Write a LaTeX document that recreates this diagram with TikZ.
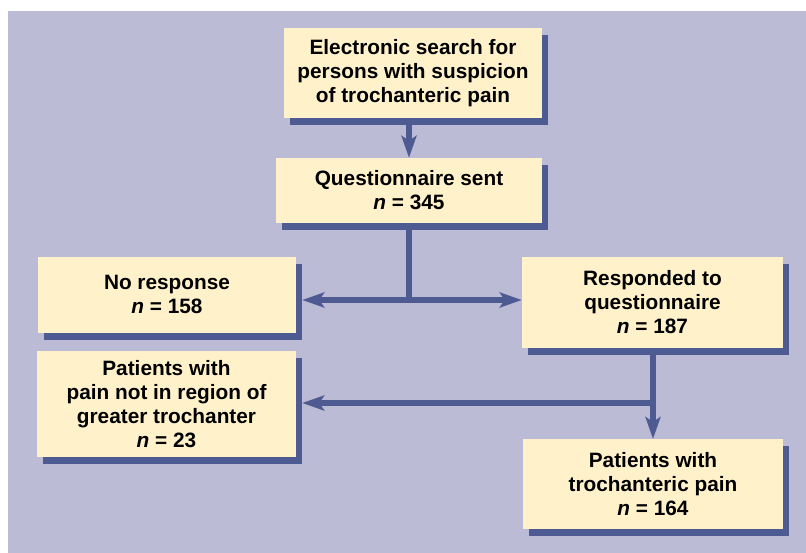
\documentclass[tikz,border=0pt]{standalone}
\usepackage{fontspec}
\setmainfont{Liberation Sans}
\usetikzlibrary{arrows.meta,shadows}

\definecolor{panel}{HTML}{BBBBD5}
\definecolor{boxfill}{HTML}{FFF2CB}
\definecolor{flowblue}{HTML}{4E5A92}

\begin{document}
\begin{tikzpicture}[x = 1pt, y = -1pt, > = {Stealth[length = 22pt, width = 15pt, inset = 5pt]},
	box/.style = {fill = boxfill, align = center, inner sep = 0pt,
		font = \fontsize{20.8}{24}\selectfont\bfseries,
		drop shadow = {shadow xshift = 6pt, shadow yshift = -7pt, opacity = 1, fill = flowblue}},
	flow/.style = {draw = flowblue, line width = 5.5pt}]

% Definitions

\def\nn{\textit{n}}

% Page and panel

\useasboundingbox (0, 0) rectangle (806, 553);
\fill [white] (0, 0) rectangle (806, 553);
\fill [panel] (8, 11) rectangle (806, 553);

% Boxes

\node [box, minimum width = 258pt, minimum height = 90pt] (search) at (413, 73)
	{Electronic search for\\persons with suspicion\\of trochanteric pain};
\node [box, minimum width = 266pt, minimum height = 65pt] (sent) at (409, 190.5)
	{Questionnaire sent\\\nn{} = 345};
\node [box, minimum width = 258pt, minimum height = 76pt] (noresp) at (167, 294.7)
	{No response\\\nn{} = 158};
\node [box, minimum width = 261pt, minimum height = 91pt] (resp) at (652.5, 302.2)
	{Responded to\\questionnaire\\\nn{} = 187};
\node [box, minimum width = 259pt, minimum height = 106pt] (other) at (166.5, 403.7)
	{Patients with\\pain not in region of\\greater trochanter\\\nn{} = 23};
\node [box, minimum width = 260pt, minimum height = 90pt] (troch) at (653, 484.2)
	{Patients with\\trochanteric pain\\\nn{} = 164};

% Split points

\coordinate (split-a) at (409, 300);
\coordinate (split-b) at (653, 403);

% Connectors

\draw [flow, ->] (sent.north |- search.south) -- (sent.north);
\draw [flow] (sent.south) -- (split-a);
\draw [flow, ->] (split-a) -- ([xshift = 6pt] noresp.east |- split-a);
\draw [flow, ->] (split-a) -- (resp.west |- split-a);
\draw [flow] (resp.south -| split-b) -- (split-b);
\draw [flow, ->] (split-b) -- (troch.north -| split-b);
\draw [flow, ->] (split-b) -- ([xshift = 6pt] other.east |- split-b);

\end{tikzpicture}
\end{document}
